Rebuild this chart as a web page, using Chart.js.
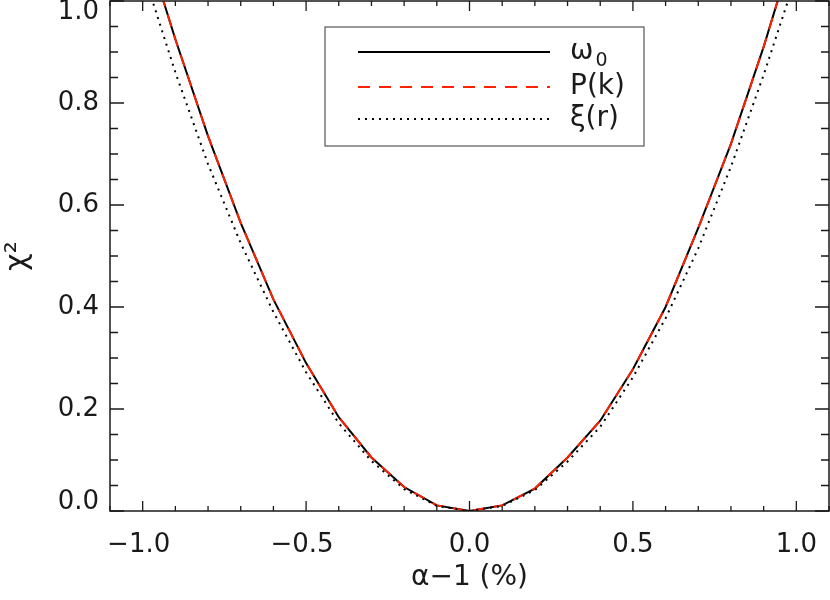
<!DOCTYPE html>
<html>
<head>
<meta charset="utf-8">
<script src="https://cdn.jsdelivr.net/npm/chart.js@4"></script>
<style>
  html, body { margin: 0; padding: 0; background: #fff; }
  #wrap { width: 830px; height: 600px; }
</style>
</head>
<body>
<div id="wrap"><canvas id="chi2Chart" width="830" height="600"></canvas></div>
<script>
// alpha - 1 (%) sample points
const alphaVals = [-1.0, -0.9, -0.8, -0.7, -0.6, -0.5, -0.4, -0.3, -0.2, -0.1, 0.0,
                    0.1, 0.2, 0.3, 0.4, 0.5, 0.6, 0.7, 0.8, 0.9, 1.0];

// chi^2
const chiOmega = [1.13, 0.925, 0.735, 0.565, 0.415, 0.29, 0.184, 0.105, 0.047, 0.011, 0.0,
                  0.011, 0.044, 0.105, 0.177, 0.278, 0.40, 0.555, 0.72, 0.91, 1.12];
const chiPk    = [1.13, 0.925, 0.735, 0.565, 0.415, 0.29, 0.184, 0.105, 0.047, 0.011, 0.0,
                  0.011, 0.044, 0.105, 0.177, 0.278, 0.40, 0.555, 0.72, 0.91, 1.12];
const chiXi    = [1.06, 0.86, 0.68, 0.525, 0.39, 0.272, 0.172, 0.098, 0.043, 0.010, 0.0,
                  0.010, 0.041, 0.097, 0.165, 0.262, 0.378, 0.515, 0.675, 0.855, 1.05];

const xTickVals = [-1.0, -0.5, 0.0, 0.5, 1.0];
const yTickVals = [0.0, 0.2, 0.4, 0.6, 0.8, 1.0];

const FONT = "'DejaVu Sans', sans-serif";
const INK = "#1a1a1a";

function toPoints(ys) {
  return alphaVals.map((x, i) => ({ x: x, y: ys[i] }));
}

function fmt(v) {
  const s = Math.abs(v).toFixed(1);
  return v < -1e-9 ? "\u2212" + s : s;
}

// box, inward ticks on all four sides, tick labels
const frameTicks = {
  id: "frameTicks",
  afterDraw(chart) {
    const ctx = chart.ctx;
    const a = chart.chartArea;
    const xs = chart.scales.x;
    const ys = chart.scales.y;

    ctx.save();
    ctx.strokeStyle = INK;
    ctx.lineWidth = 1.5;
    ctx.strokeRect(a.left, a.top, a.right - a.left, a.bottom - a.top);

    ctx.lineWidth = 1.3;
    ctx.beginPath();
    for (let k = -11; k <= 11; k++) {
      const px = xs.getPixelForValue(k / 10);
      const len = (k % 5 === 0) ? 10 : 5;
      ctx.moveTo(px, a.bottom); ctx.lineTo(px, a.bottom - len);
      ctx.moveTo(px, a.top);    ctx.lineTo(px, a.top + len);
    }
    for (let k = 0; k <= 20; k++) {
      const py = ys.getPixelForValue(k / 20);
      const len = (k % 4 === 0) ? 14 : 8;
      ctx.moveTo(a.left, py);  ctx.lineTo(a.left + len, py);
      ctx.moveTo(a.right, py); ctx.lineTo(a.right - len, py);
    }
    ctx.stroke();

    ctx.fillStyle = INK;
    ctx.font = "26px " + FONT;
    ctx.textAlign = "right";
    ctx.textBaseline = "middle";
    yTickVals.forEach(v => {
      let py = ys.getPixelForValue(v);
      py = Math.max(12, Math.min(502, py));
      ctx.fillText(fmt(v), a.left - 11, py);
    });

    ctx.textAlign = "center";
    ctx.textBaseline = "middle";
    xTickVals.forEach(v => {
      ctx.fillText(fmt(v), xs.getPixelForValue(v) - (v < 0 ? 4 : 0), a.bottom + 34);
    });
    ctx.restore();
  }
};

// legend box inside the plot
const legendBox = {
  id: "legendBox",
  afterDatasetsDraw(chart) {
    const ctx = chart.ctx;
    const bx = 325, by = 27, bw = 319, bh = 119;
    ctx.save();
    ctx.fillStyle = "#fff";
    ctx.fillRect(bx, by, bw, bh);
    ctx.strokeStyle = "#555";
    ctx.lineWidth = 1.2;
    ctx.strokeRect(bx, by, bw, bh);

    const rows = [
      { y: 52, color: "#000", dash: [], label: "ω", sub: "0" },
      { y: 87, color: "#ff2200", dash: [12, 9], label: "P(k)" },
      { y: 119, color: "#000", dash: [2, 5], label: "ξ(r)" }
    ];
    rows.forEach(r => {
      ctx.beginPath();
      ctx.setLineDash(r.dash);
      ctx.strokeStyle = r.color;
      ctx.lineWidth = 2;
      ctx.moveTo(358, r.y);
      ctx.lineTo(550, r.y);
      ctx.stroke();
      ctx.setLineDash([]);
      ctx.fillStyle = INK;
      ctx.textAlign = "left";
      ctx.textBaseline = "middle";
      ctx.font = "28px " + FONT;
      ctx.fillText(r.label, 570, r.y);
      if (r.sub) {
        const w = ctx.measureText(r.label).width;
        ctx.font = "19px " + FONT;
        ctx.fillText(r.sub, 570 + w + 2, r.y + 9);
      }
    });
    ctx.restore();
  }
};

new Chart(document.getElementById("chi2Chart"), {
  type: "scatter",
  data: {
    datasets: [
      {
        label: "ξ(r)",
        data: toPoints(chiXi),
        showLine: true,
        borderColor: "#000",
        borderWidth: 2,
        borderDash: [2, 5],
        pointRadius: 0,
        order: 0
      },
      {
        label: "P(k)",
        data: toPoints(chiPk),
        showLine: true,
        borderColor: "#ff2200",
        borderWidth: 2,
        borderDash: [12, 9],
        pointRadius: 0,
        order: 1
      },
      {
        label: "ω0",
        data: toPoints(chiOmega),
        showLine: true,
        borderColor: "#000",
        borderWidth: 2,
        pointRadius: 0,
        order: 2
      }
    ]
  },
  options: {
    responsive: false,
    animation: false,
    layout: { padding: { top: 1, right: 1, left: 0, bottom: 0 } },
    plugins: {
      legend: { display: false },
      tooltip: { enabled: false }
    },
    scales: {
      x: {
        type: "linear",
        min: -1.1,
        max: 1.1,
        afterBuildTicks: s => { s.ticks = xTickVals.map(v => ({ value: v })); },
        afterFit: s => { s.height = 89; },
        grid: { display: false, drawTicks: false },
        border: { display: false },
        ticks: { display: false },
        title: {
          display: true,
          text: "α\u22121 (%)",
          color: INK,
          padding: 5,
          font: { family: FONT, size: 28 }
        }
      },
      y: {
        type: "linear",
        min: 0,
        max: 1.0,
        afterBuildTicks: s => { s.ticks = yTickVals.map(v => ({ value: v })); },
        afterFit: s => { s.width = 110; },
        grid: { display: false, drawTicks: false },
        border: { display: false },
        ticks: { display: false },
        title: {
          display: true,
          text: "χ²",
          color: INK,
          padding: 0,
          font: { family: FONT, size: 30 }
        }
      }
    }
  },
  plugins: [frameTicks, legendBox]
});
</script>
</body>
</html>
